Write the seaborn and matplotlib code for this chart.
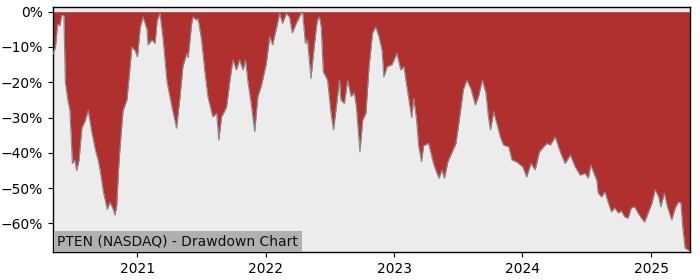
import matplotlib
matplotlib.use("Agg")
import matplotlib.pyplot as plt
import matplotlib.dates as mdates
import matplotlib.ticker as mticker
import seaborn as sns
import pandas as pd

dates = [
    "2020-05-07", "2020-05-14", "2020-05-20", "2020-05-26", "2020-06-01", "2020-06-07",
    "2020-06-11", "2020-06-18", "2020-06-24", "2020-07-01", "2020-07-08", "2020-07-13",
    "2020-07-20", "2020-07-28", "2020-08-06", "2020-08-15", "2020-08-25", "2020-09-04",
    "2020-09-12", "2020-09-18", "2020-09-27", "2020-10-08", "2020-10-16", "2020-10-25",
    "2020-10-30", "2020-11-04", "2020-11-09", "2020-11-13", "2020-11-22", "2020-12-03",
    "2020-12-12", "2020-12-17", "2020-12-26", "2021-01-02", "2021-01-10", "2021-01-18",
    "2021-01-21", "2021-01-29", "2021-02-01", "2021-02-12", "2021-02-21", "2021-02-27",
    "2021-03-07", "2021-03-16", "2021-03-27", "2021-04-10", "2021-04-23", "2021-05-03",
    "2021-05-11", "2021-05-22", "2021-05-26", "2021-06-05", "2021-06-09", "2021-06-19",
    "2021-06-23", "2021-07-03", "2021-07-13", "2021-07-21", "2021-08-04", "2021-08-15",
    "2021-08-21", "2021-08-29", "2021-09-12", "2021-09-21", "2021-09-30", "2021-10-10",
    "2021-10-19", "2021-10-29", "2021-11-05", "2021-11-12", "2021-11-21", "2021-12-01",
    "2021-12-10", "2021-12-20", "2022-01-03", "2022-01-13", "2022-01-21", "2022-01-31",
    "2022-02-10", "2022-02-18", "2022-03-01", "2022-03-10", "2022-03-18", "2022-03-29",
    "2022-04-12", "2022-04-16", "2022-04-24", "2022-04-30", "2022-05-10", "2022-05-20",
    "2022-05-28", "2022-06-03", "2022-06-08", "2022-06-14", "2022-06-26", "2022-07-06",
    "2022-07-13", "2022-07-20", "2022-07-30", "2022-08-03", "2022-08-13", "2022-08-22",
    "2022-09-01", "2022-09-10", "2022-09-16", "2022-09-26", "2022-10-04", "2022-10-13",
    "2022-10-22", "2022-11-01", "2022-11-10", "2022-11-19", "2022-11-28", "2022-12-03",
    "2022-12-12", "2022-12-26", "2023-01-09", "2023-01-20", "2023-01-29", "2023-02-06",
    "2023-02-20", "2023-02-26", "2023-03-06", "2023-03-12", "2023-03-20", "2023-03-26",
    "2023-04-09", "2023-04-23", "2023-05-03", "2023-05-09", "2023-05-17", "2023-05-24",
    "2023-06-03", "2023-06-14", "2023-06-26", "2023-07-08", "2023-07-17", "2023-07-27",
    "2023-08-08", "2023-08-20", "2023-08-29", "2023-09-09", "2023-09-19", "2023-09-26",
    "2023-10-02", "2023-10-11", "2023-10-20", "2023-10-30", "2023-11-08", "2023-11-23",
    "2023-12-02", "2023-12-16", "2024-01-02", "2024-01-13", "2024-01-25", "2024-02-06",
    "2024-02-18", "2024-03-01", "2024-03-11", "2024-03-20", "2024-04-03", "2024-04-17",
    "2024-05-01", "2024-05-16", "2024-05-30", "2024-06-13", "2024-06-27", "2024-07-06",
    "2024-07-13", "2024-07-22", "2024-07-30", "2024-08-03", "2024-08-13", "2024-08-22",
    "2024-09-01", "2024-09-10", "2024-09-19", "2024-09-29", "2024-10-08", "2024-10-18",
    "2024-10-27", "2024-11-05", "2024-11-15", "2024-11-24", "2024-12-04", "2024-12-13",
    "2024-12-23", "2025-01-03", "2025-01-12", "2025-01-22", "2025-01-28", "2025-02-07",
    "2025-02-16", "2025-02-28", "2025-03-10", "2025-03-19", "2025-03-26", "2025-04-01",
    "2025-04-07", "2025-04-16", "2025-04-21",
]

drawdown_pct = [
    -12, -10, -3.5, -4, -1, -1.2,
    -20, -25, -28, -43, -42, -45,
    -42, -33, -31, -28, -34, -39,
    -42, -45, -51, -56, -54, -56,
    -57.6, -55, -45, -39, -28, -25,
    -15.6, -10, -11, -12.8, -4.3, -1.5,
    -2.5, -5, -9.4, -8, -9, -2.4,
    -0.5, -8, -20, -27, -33, -24,
    -15.6, -11.8, -13, -3.3, -1.5, -2.4,
    -1.9, -8, -17.5, -24, -29.8, -28.8,
    -36.4, -29.8, -27, -20, -13.7, -16.5,
    -13.7, -16.5, -13.7, -20, -26, -34,
    -24, -21, -14.7, -7, -9.4, -5,
    -0.5, -3.3, -0.5, -1.5, -6, -3.3,
    -0.5, 0, -9, -8, -18.9, -9,
    -2.4, -1.5, -4.3, -17, -19.4, -28.8,
    -33.5, -27.8, -19.4, -25, -26, -19.4,
    -24, -23, -27, -39.7, -30.7, -28.8,
    -15.6, -6, -4.3, -7, -11, -18.5,
    -15.6, -15, -11.8, -16.5, -15.6, -21,
    -30, -24.6, -30.7, -38, -42.5, -38,
    -37.3, -43, -45.8, -47.2, -44.8, -47.2,
    -42.5, -40, -37.3, -28.8, -22, -19.4,
    -22, -26.4, -24, -19.4, -23, -29.8,
    -33.5, -28.4, -31.6, -35.5, -37.8, -38.3,
    -42, -42.6, -44, -46.8, -43, -44.8,
    -39.7, -38.3, -37.3, -37.8, -35.5, -39.7,
    -43, -40.6, -44, -46.3, -45.8, -47.2,
    -43.4, -45.8, -47.7, -51.4, -52.5, -51,
    -54.2, -56.7, -55.6, -57, -56.5, -58.2,
    -58.5, -55.6, -55.3, -57, -58.5, -59.6,
    -57, -54.2, -50.5, -52.5, -55.3, -51.4,
    -55.3, -59, -55.6, -53.9, -54.2, -61.8,
    -67, -67.5, -67.8,
]

year_ticks = ["2021-01-01", "2022-01-01", "2023-01-01", "2024-01-01", "2025-01-01"]
y_ticks = [0, -0.1, -0.2, -0.3, -0.4, -0.5, -0.6]
title_text = "PTEN (NASDAQ) - Drawdown Chart"

df = pd.DataFrame({"date": pd.to_datetime(dates),
                   "drawdown": [v / 100 for v in drawdown_pct]})

sns.set_style("ticks")
plt.rcParams["font.family"] = ["DejaVu Sans"]

fig = plt.figure(figsize=(7, 2.8), dpi=100)
ax = fig.add_axes([0.0757, 0.1, 0.91, 0.874])
ax.set_facecolor("#ececec")

ax.fill_between(df["date"], df["drawdown"], 0, color="#b03030", linewidth=0, zorder=2)
sns.lineplot(data=df, x="date", y="drawdown", ax=ax, color="#8a8a8a",
             linewidth=0.8, zorder=3)

ax.set_xlim(df["date"].iloc[0], df["date"].iloc[-1])
ax.set_ylim(-0.681, 0.0125)
ax.set_xticks(pd.to_datetime(year_ticks))
ax.xaxis.set_major_formatter(mdates.DateFormatter("%Y"))
ax.set_yticks(y_ticks)
ax.yaxis.set_major_formatter(mticker.FuncFormatter(
    lambda v, p: f"{v*100:.0f}%".replace("-", "\u2212")))
ax.set_xlabel("")
ax.set_ylabel("")
ax.tick_params(labelsize=10, colors="black", length=3.5, width=0.8)
for s in ax.spines.values():
    s.set_visible(True)
    s.set_color("black")
    s.set_linewidth(1.0)

ax.annotate(title_text, xy=(0, 0), xycoords="axes fraction",
            xytext=(3, 2.5), textcoords="offset points", ha="left", va="bottom",
            fontsize=10, color="#111111", zorder=5,
            bbox=dict(boxstyle="square,pad=0.25", facecolor="#b0b0b0",
                      edgecolor="none"))

fig.savefig("out.png", dpi=100)
